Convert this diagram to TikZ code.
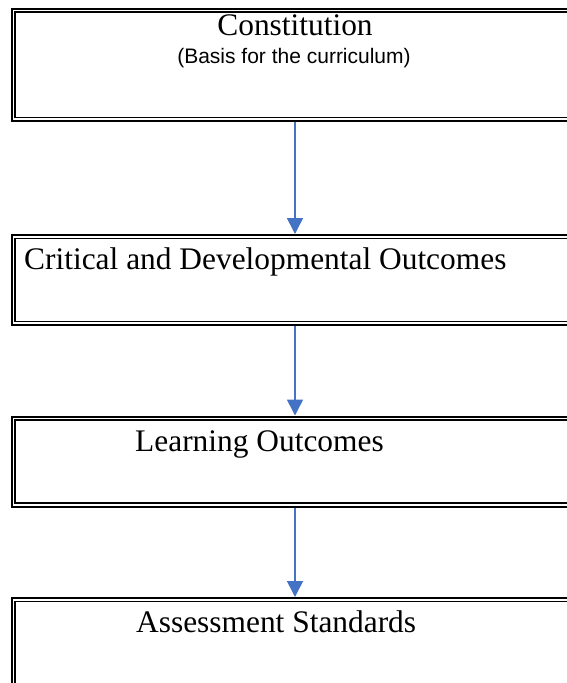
\documentclass[tikz,border=0pt]{standalone}
\usepackage{fontspec}
\setmainfont{Liberation Serif}
\newfontfamily\arialfont{Liberation Sans}
\usetikzlibrary{arrows.meta,calc}
\definecolor{arrowblue}{HTML}{4472C4}
\tikzset{
  outerbox/.style={draw=black, line width=2pt, rectangle, anchor=north west, minimum width=640pt, inner sep=0pt},
  innerline/.style={draw=black, line width=1.4pt},
  big/.style={font=\fontsize{31.4}{36}\selectfont, inner sep=0pt},
  small/.style={font=\arialfont\fontsize{21}{25}\selectfont, inner sep=0pt},
  flow/.style={draw=arrowblue, line width=1.6pt, -{Triangle[width=16pt,length=16pt]}}
}
\begin{document}
\begin{tikzpicture}[x=1pt,y=-1pt]
\useasboundingbox (0,0) rectangle (567,683);
\clip (0,0) rectangle (567,683);
% boxes
\node[outerbox, minimum height=112.5pt] (b1) at (10.5,7.5) {};
\node[outerbox, minimum height=90pt] (b2) at (10.5,234) {};
\node[outerbox, minimum height=90pt] (b3) at (10.5,415.5) {};
\node[outerbox, minimum height=90pt] (b4) at (10.5,597) {};
\foreach \b in {b1,b2,b3,b4}{
  \draw[innerline] ($(\b.north west)+(4.6,4.6)$) rectangle ($(\b.south east)+(-4.6,-4.6)$);
}
% texts
\node[big, anchor=base] (t1) at (295,35) {Constitution};
\node[small, anchor=base] (t1s) at (294,63) {(Basis for the curriculum)};
\node[big, anchor=base west] (t2) at (24,269) {Critical and Developmental Outcomes};
\node[big, anchor=base west] (t3) at (135,451) {Learning Outcomes};
\node[big, anchor=base west] (t4) at (136,632) {Assessment Standards};
% arrows
\coordinate (ax) at (295,0);
\draw[flow] (b1.south -| ax) -- (b2.north -| ax);
\draw[flow] (b2.south -| ax) -- (b3.north -| ax);
\draw[flow] (b3.south -| ax) -- (b4.north -| ax);
\end{tikzpicture}
\end{document}
